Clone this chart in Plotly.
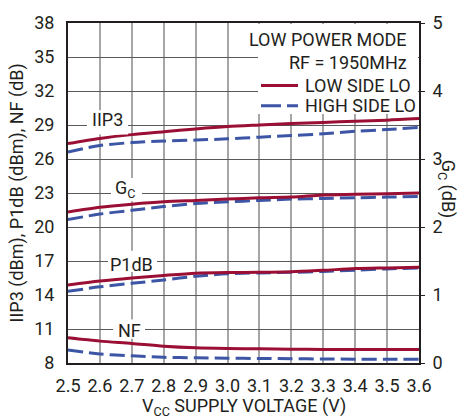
import plotly.graph_objects as go

vcc = [2.5, 2.6, 2.7, 2.8, 2.9, 3.0, 3.1, 3.2, 3.3, 3.4, 3.5, 3.6]

iip3_low = [27.36, 27.81, 28.15, 28.40, 28.65, 28.86, 29.00, 29.13, 29.23, 29.34, 29.43, 29.57]
iip3_high = [26.62, 27.19, 27.45, 27.59, 27.67, 27.78, 27.93, 28.07, 28.22, 28.44, 28.60, 28.78]
gc_low = [2.22, 2.29, 2.335, 2.37, 2.39, 2.41, 2.43, 2.44, 2.47, 2.48, 2.49, 2.50]
gc_high = [2.11, 2.19, 2.245, 2.30, 2.345, 2.37, 2.39, 2.41, 2.42, 2.43, 2.44, 2.45]
p1db_low = [14.89, 15.23, 15.50, 15.73, 15.93, 15.99, 16.00, 16.05, 16.18, 16.33, 16.39, 16.45]
p1db_high = [14.32, 14.72, 15.03, 15.33, 15.65, 15.87, 15.95, 16.00, 16.08, 16.19, 16.30, 16.39]
nf_low = [10.22, 9.93, 9.72, 9.48, 9.34, 9.28, 9.25, 9.22, 9.20, 9.20, 9.20, 9.20]
nf_high = [9.15, 8.80, 8.63, 8.50, 8.46, 8.43, 8.40, 8.38, 8.35, 8.34, 8.34, 8.33]

left_ticks = [8, 11, 14, 17, 20, 23, 26, 29, 32, 35, 38]
right_ticks = [0, 1, 2, 3, 4, 5]
x_ticks = vcc

RED = "#9b0f35"
BLUE = "#3c55a5"
FONT = "Roboto, Liberation Sans, sans-serif"
FS = 18

fig = go.Figure()

def add(y, color, dash, axis):
    fig.add_trace(go.Scatter(
        x=vcc, y=y, mode="lines", yaxis=axis, showlegend=False,
        line=dict(color=color, width=3, dash=dash, shape="spline", smoothing=0.8),
        hoverinfo="skip"))

for lo, hi, ax in [(iip3_low, iip3_high, "y"), (p1db_low, p1db_high, "y"),
                   (nf_low, nf_high, "y"), (gc_low, gc_high, "y2")]:
    add(hi, BLUE, "15px,6px", ax)
    add(lo, RED, "solid", ax)

fig.update_layout(
    width=467, height=418,
    margin=dict(l=68, r=48, t=12, b=55),
    paper_bgcolor="white", plot_bgcolor="white",
    font=dict(family=FONT, size=FS, color="#231f20"),
    xaxis=dict(
        range=[2.5, 3.6], tickvals=x_ticks, ticktext=[f"{v:.1f}" for v in x_ticks],
        showgrid=True, gridcolor="#a6a6a6", gridwidth=2,
        showline=True, linecolor="#231f20", linewidth=2, mirror=True,
        ticks="", ticklabelstandoff=5, zeroline=False,
    ),
    yaxis=dict(
        range=[8, 38], tickvals=left_ticks,
        showgrid=True, gridcolor="#5a5a5a", gridwidth=1,
        showline=True, linecolor="#231f20", linewidth=2,
        ticks="", ticklabelstandoff=8, zeroline=False,
    ),
    yaxis2=dict(
        range=[0, 5], tickvals=right_ticks, overlaying="y", side="right",
        showgrid=False, showline=True, linecolor="#231f20", linewidth=2,
        ticks="outside", ticklen=4, tickcolor="#231f20", ticklabelstandoff=4,
        zeroline=False,
    ),
)

def px_x(p):
    return (p - 68) / 351.0

def px_y(p):
    return (363 - p) / 351.0

def white_box(x0, x1, y0, y1):
    fig.add_shape(type="rect", xref="paper", yref="paper",
                  x0=px_x(x0), x1=px_x(x1), y0=px_y(y1), y1=px_y(y0),
                  fillcolor="white", line=dict(width=0), layer="above")

# white legend box and label boxes (placed clear of the curves)
white_box(258, 418, 13, 106)
white_box(87, 128, 102, 127)
white_box(111, 142, 172, 196)
white_box(108, 157, 247, 269)
white_box(113, 145, 318, 338)

# legend title lines
fig.add_annotation(xref="paper", yref="paper", x=px_x(409), y=px_y(29),
                   xanchor="right", yanchor="middle", text="LOW POWER MODE",
                   showarrow=False)
fig.add_annotation(xref="paper", yref="paper", x=px_x(409), y=px_y(53),
                   xanchor="right", yanchor="middle", text="RF = 1950MHz",
                   showarrow=False)
# legend entries
for name, color, dash, yc in [("LOW SIDE LO", RED, "solid", 76.5),
                              ("HIGH SIDE LO", BLUE, "20px,6px", 97.5)]:
    fig.add_shape(type="line", xref="paper", yref="paper",
                  x0=px_x(261), x1=px_x(298), y0=px_y(yc), y1=px_y(yc),
                  line=dict(color=color, width=3, dash=dash), layer="above")
    fig.add_annotation(xref="paper", yref="paper", x=px_x(303), y=px_y(yc),
                       xanchor="left", yanchor="middle", text=name,
                       showarrow=False)

# curve labels
for txt, xv, yv, ys in [("IIP3", 2.625, 29, 6), ("G<sub>C</sub>", 2.68, 23, 4),
                        ("P1dB", 2.70, 17, -3), ("NF", 2.693, 11, -1)]:
    fig.add_annotation(x=xv, y=yv, xref="x", yref="y", text=txt, showarrow=False,
                       yshift=ys)

# axis titles
fig.add_annotation(xref="paper", yref="paper", x=px_x(17), y=px_y(188),
                   text="IIP3 (dBm), P1dB (dBm), NF (dB)", textangle=-90,
                   showarrow=False, xanchor="center", yanchor="middle")
fig.add_annotation(xref="paper", yref="paper", x=px_x(447), y=px_y(183),
                   text="G<sub>C</sub> (dB)", textangle=90,
                   showarrow=False, xanchor="center", yanchor="middle")
fig.add_annotation(xref="paper", yref="paper", x=px_x(244), y=px_y(408),
                   text="V<sub>CC</sub> SUPPLY VOLTAGE (V)",
                   showarrow=False, xanchor="center", yanchor="middle")

fig.write_html("out.html", config={"displayModeBar": False},
               post_script="document.body.style.margin='0';")
